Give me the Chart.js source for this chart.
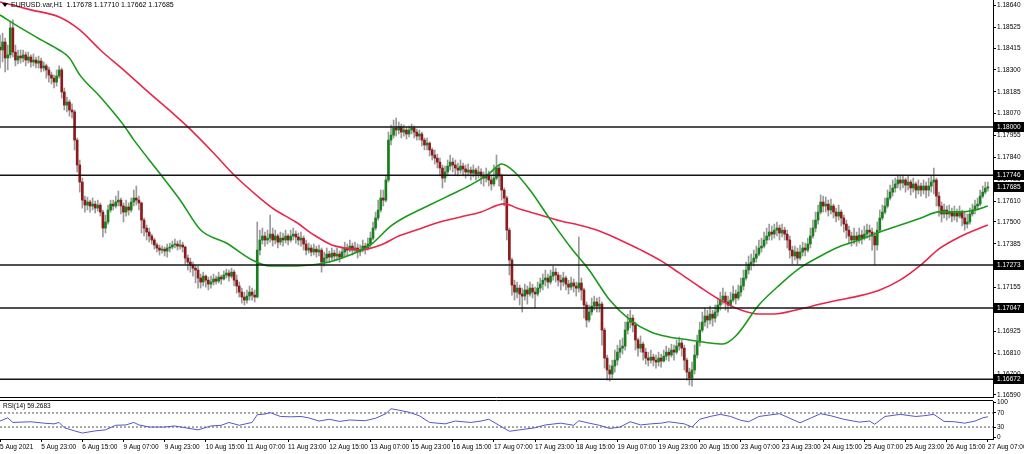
<!DOCTYPE html>
<html>
<head>
<meta charset="utf-8">
<title>EURUSD H1</title>
<script src="https://cdn.jsdelivr.net/npm/chart.js@4.4.1/dist/chart.umd.min.js"></script>
<style>
  html, body { margin: 0; padding: 0; background: #fff; overflow: hidden; }
  #wrap { position: relative; width: 1024px; height: 454px; }
  #main { position: absolute; left: 0; top: 0; }
  #rsi { position: absolute; left: 0; top: 399px; }
</style>
</head>
<body>
<div id="wrap">
  <canvas id="main" width="1024" height="399"></canvas>
  <canvas id="rsi" width="1024" height="55"></canvas>
</div>
<script>
// --- Data ---
const symbolName = "EURUSD.var,H1";
const rsiName = "RSI(14)";

const timeLabels = ["5 Aug 2021","5 Aug 23:00","6 Aug 15:00","9 Aug 07:00","9 Aug 23:00","10 Aug 15:00",
  "11 Aug 07:00","11 Aug 23:00","12 Aug 15:00","13 Aug 07:00","15 Aug 23:00","16 Aug 15:00","17 Aug 07:00",
  "17 Aug 23:00","18 Aug 15:00","19 Aug 07:00","19 Aug 23:00","20 Aug 15:00","23 Aug 07:00","23 Aug 23:00",
  "24 Aug 15:00","25 Aug 07:00","25 Aug 23:00","26 Aug 15:00","27 Aug 07:00"];
const barsPerLabel = 16;

const firstOpen = 1.18420;
const closes = [
  1.18405,1.18447,1.18363,1.18379,1.18521,1.18394,1.18352,1.18373,1.18363,1.18379,
  1.18352,1.18368,1.18342,1.18352,1.18336,1.18347,1.18310,1.18321,1.18300,1.18273,
  1.18257,1.18236,1.18268,1.18300,1.18184,1.18115,1.18131,1.18089,1.18079,1.17931,
  1.17800,1.17710,1.17615,1.17589,1.17605,1.17584,1.17594,1.17573,1.17589,1.17552,
  1.17468,1.17500,1.17563,1.17594,1.17584,1.17605,1.17615,1.17584,1.17552,1.17579,
  1.17563,1.17605,1.17626,1.17615,1.17600,1.17510,1.17468,1.17447,1.17426,1.17405,
  1.17379,1.17363,1.17352,1.17357,1.17347,1.17363,1.17368,1.17379,1.17384,1.17373,
  1.17379,1.17368,1.17310,1.17289,1.17273,1.17257,1.17247,1.17205,1.17184,1.17215,
  1.17194,1.17173,1.17184,1.17200,1.17189,1.17210,1.17200,1.17221,1.17231,1.17215,
  1.17236,1.17194,1.17163,1.17131,1.17105,1.17089,1.17110,1.17131,1.17115,1.17105,
  1.17352,1.17405,1.17426,1.17405,1.17415,1.17436,1.17405,1.17426,1.17394,1.17415,
  1.17405,1.17426,1.17405,1.17426,1.17436,1.17421,1.17405,1.17415,1.17384,1.17352,
  1.17363,1.17342,1.17357,1.17342,1.17352,1.17289,1.17310,1.17331,1.17315,1.17336,
  1.17321,1.17331,1.17315,1.17342,1.17363,1.17352,1.17373,1.17352,1.17363,1.17342,
  1.17352,1.17373,1.17363,1.17384,1.17415,1.17468,1.17521,1.17563,1.17626,1.17615,
  1.17721,1.17931,1.17957,1.17994,1.17984,1.18000,1.17973,1.17984,1.17963,1.17984,
  1.17994,1.17973,1.17952,1.17963,1.17931,1.17905,1.17915,1.17879,1.17852,1.17836,
  1.17815,1.17784,1.17731,1.17763,1.17794,1.17815,1.17800,1.17784,1.17773,1.17794,
  1.17779,1.17763,1.17773,1.17757,1.17773,1.17752,1.17763,1.17742,1.17731,1.17747,
  1.17721,1.17700,1.17731,1.17784,1.17742,1.17668,1.17626,1.17457,1.17300,1.17168,
  1.17131,1.17152,1.17121,1.17110,1.17142,1.17121,1.17152,1.17131,1.17121,1.17152,
  1.17173,1.17194,1.17205,1.17184,1.17215,1.17236,1.17221,1.17194,1.17184,1.17205,
  1.17173,1.17157,1.17179,1.17163,1.17152,1.17179,1.17142,1.17063,1.16984,1.17026,
  1.17057,1.17079,1.17057,1.17068,1.16931,1.16784,1.16721,1.16700,1.16742,1.16773,
  1.16815,1.16836,1.16847,1.16931,1.16973,1.16994,1.16957,1.16879,1.16836,1.16857,
  1.16815,1.16784,1.16773,1.16789,1.16773,1.16763,1.16784,1.16768,1.16794,1.16815,
  1.16800,1.16826,1.16815,1.16847,1.16863,1.16836,1.16773,1.16710,1.16679,1.16721,
  1.16800,1.16868,1.16931,1.16973,1.17005,1.16984,1.17015,1.16994,1.17026,1.17063,
  1.17089,1.17110,1.17079,1.17063,1.17089,1.17121,1.17100,1.17131,1.17163,1.17205,
  1.17247,1.17279,1.17289,1.17310,1.17331,1.17363,1.17373,1.17405,1.17426,1.17447,
  1.17436,1.17457,1.17468,1.17442,1.17457,1.17436,1.17405,1.17352,1.17321,1.17342,
  1.17310,1.17342,1.17363,1.17352,1.17384,1.17426,1.17468,1.17510,1.17552,1.17605,
  1.17584,1.17594,1.17563,1.17584,1.17552,1.17531,1.17552,1.17521,1.17489,1.17457,
  1.17426,1.17405,1.17426,1.17405,1.17431,1.17415,1.17436,1.17457,1.17447,1.17426,
  1.17379,1.17457,1.17521,1.17552,1.17584,1.17626,1.17657,1.17679,1.17700,1.17721,
  1.17705,1.17721,1.17694,1.17710,1.17679,1.17700,1.17668,1.17689,1.17668,1.17689,
  1.17668,1.17689,1.17710,1.17721,1.17636,1.17584,1.17542,1.17563,1.17542,1.17552,
  1.17531,1.17547,1.17531,1.17552,1.17521,1.17489,1.17500,1.17542,1.17563,1.17584,
  1.17594,1.17636,1.17657,1.17678,1.17685
];
const highs = [
  1.18484,1.18494,1.18468,1.18431,1.18552,1.18563,1.18431,1.18405,1.18405,1.18405,
  1.18394,1.18394,1.18379,1.18384,1.18368,1.18373,1.18363,1.18342,1.18331,1.18315,
  1.18289,1.18273,1.18300,1.18321,1.18310,1.18205,1.18157,1.18142,1.18121,1.18089,
  1.17942,1.17826,1.17731,1.17636,1.17631,1.17615,1.17626,1.17610,1.17615,1.17600,
  1.17563,1.17536,1.17589,1.17615,1.17615,1.17636,1.17663,1.17626,1.17600,1.17615,
  1.17600,1.17626,1.17668,1.17689,1.17636,1.17605,1.17521,1.17484,1.17468,1.17436,
  1.17415,1.17389,1.17379,1.17373,1.17368,1.17384,1.17389,1.17400,1.17410,1.17400,
  1.17405,1.17394,1.17373,1.17326,1.17310,1.17289,1.17273,1.17268,1.17226,1.17236,
  1.17221,1.17210,1.17215,1.17226,1.17215,1.17236,1.17221,1.17242,1.17252,1.17247,
  1.17257,1.17247,1.17221,1.17184,1.17152,1.17131,1.17142,1.17163,1.17152,1.17142,
  1.17500,1.17457,1.17468,1.17447,1.17457,1.17536,1.17468,1.17457,1.17436,1.17447,
  1.17442,1.17457,1.17436,1.17457,1.17468,1.17452,1.17442,1.17447,1.17426,1.17405,
  1.17389,1.17379,1.17384,1.17373,1.17379,1.17363,1.17342,1.17363,1.17347,1.17363,
  1.17352,1.17363,1.17347,1.17368,1.17394,1.17384,1.17405,1.17389,1.17394,1.17384,
  1.17379,1.17405,1.17389,1.17415,1.17447,1.17500,1.17552,1.17615,1.17668,1.17668,
  1.17747,1.17973,1.18010,1.18036,1.18047,1.18026,1.18015,1.18010,1.18000,1.18005,
  1.18015,1.18005,1.17989,1.17984,1.17973,1.17942,1.17942,1.17921,1.17889,1.17879,
  1.17857,1.17836,1.17800,1.17794,1.17826,1.17852,1.17836,1.17826,1.17810,1.17826,
  1.17810,1.17800,1.17805,1.17789,1.17800,1.17784,1.17794,1.17779,1.17763,1.17784,
  1.17768,1.17747,1.17800,1.17852,1.17800,1.17752,1.17679,1.17636,1.17468,1.17310,
  1.17194,1.17184,1.17168,1.17152,1.17173,1.17163,1.17184,1.17173,1.17157,1.17184,
  1.17205,1.17226,1.17247,1.17226,1.17247,1.17268,1.17257,1.17236,1.17221,1.17236,
  1.17215,1.17194,1.17210,1.17200,1.17184,1.17421,1.17205,1.17152,1.17079,1.17063,
  1.17100,1.17110,1.17100,1.17105,1.17079,1.16942,1.16800,1.16747,1.16773,1.16826,
  1.16852,1.16879,1.16889,1.16973,1.17015,1.17036,1.17010,1.16973,1.16889,1.16900,
  1.16868,1.16836,1.16815,1.16826,1.16805,1.16800,1.16815,1.16805,1.16826,1.16847,
  1.16836,1.16857,1.16852,1.16879,1.16894,1.16879,1.16852,1.16784,1.16731,1.16763,
  1.16852,1.16905,1.16973,1.17026,1.17047,1.17036,1.17057,1.17036,1.17063,1.17100,
  1.17131,1.17152,1.17131,1.17110,1.17131,1.17163,1.17142,1.17168,1.17205,1.17247,
  1.17289,1.17321,1.17331,1.17352,1.17373,1.17405,1.17415,1.17447,1.17468,1.17489,
  1.17479,1.17489,1.17500,1.17484,1.17489,1.17473,1.17457,1.17426,1.17373,1.17373,
  1.17363,1.17379,1.17394,1.17389,1.17415,1.17468,1.17510,1.17552,1.17589,1.17642,
  1.17636,1.17631,1.17615,1.17621,1.17594,1.17573,1.17589,1.17563,1.17536,1.17510,
  1.17479,1.17447,1.17468,1.17447,1.17468,1.17457,1.17479,1.17489,1.17484,1.17468,
  1.17447,1.17500,1.17563,1.17589,1.17626,1.17668,1.17694,1.17721,1.17731,1.17747,
  1.17742,1.17747,1.17731,1.17742,1.17721,1.17731,1.17710,1.17721,1.17705,1.17721,
  1.17710,1.17731,1.17742,1.17784,1.17731,1.17657,1.17605,1.17594,1.17584,1.17589,
  1.17573,1.17584,1.17568,1.17584,1.17563,1.17552,1.17542,1.17573,1.17594,1.17615,
  1.17626,1.17668,1.17689,1.17710,1.17710
];
const lows = [
  1.18310,1.18342,1.18289,1.18300,1.18363,1.18368,1.18321,1.18331,1.18336,1.18342,
  1.18321,1.18336,1.18315,1.18321,1.18310,1.18310,1.18289,1.18294,1.18257,1.18236,
  1.18226,1.18205,1.18215,1.18257,1.18152,1.18089,1.18079,1.18057,1.18047,1.17879,
  1.17763,1.17657,1.17573,1.17552,1.17563,1.17552,1.17563,1.17547,1.17557,1.17531,
  1.17421,1.17442,1.17489,1.17552,1.17563,1.17573,1.17584,1.17542,1.17500,1.17531,
  1.17536,1.17552,1.17584,1.17589,1.17563,1.17442,1.17426,1.17405,1.17394,1.17384,
  1.17357,1.17342,1.17326,1.17336,1.17321,1.17315,1.17342,1.17357,1.17363,1.17352,
  1.17357,1.17342,1.17279,1.17247,1.17236,1.17215,1.17179,1.17152,1.17152,1.17163,
  1.17157,1.17142,1.17152,1.17168,1.17173,1.17179,1.17173,1.17194,1.17205,1.17189,
  1.17205,1.17163,1.17126,1.17105,1.17073,1.17063,1.17073,1.17089,1.17089,1.17079,
  1.17100,1.17326,1.17384,1.17373,1.17384,1.17394,1.17373,1.17384,1.17363,1.17379,
  1.17373,1.17389,1.17379,1.17394,1.17405,1.17389,1.17379,1.17373,1.17352,1.17326,
  1.17336,1.17321,1.17326,1.17315,1.17321,1.17236,1.17268,1.17289,1.17289,1.17300,
  1.17294,1.17300,1.17289,1.17310,1.17321,1.17321,1.17342,1.17326,1.17336,1.17310,
  1.17321,1.17342,1.17331,1.17352,1.17363,1.17405,1.17457,1.17510,1.17552,1.17584,
  1.17605,1.17710,1.17905,1.17942,1.17952,1.17963,1.17942,1.17952,1.17936,1.17947,
  1.17963,1.17942,1.17931,1.17931,1.17900,1.17879,1.17879,1.17847,1.17826,1.17805,
  1.17784,1.17742,1.17679,1.17710,1.17742,1.17773,1.17763,1.17747,1.17742,1.17757,
  1.17742,1.17731,1.17742,1.17721,1.17736,1.17721,1.17731,1.17700,1.17689,1.17710,
  1.17689,1.17668,1.17689,1.17721,1.17689,1.17615,1.17584,1.17405,1.17221,1.17115,
  1.17089,1.17100,1.17063,1.17026,1.17089,1.17068,1.17110,1.17100,1.17047,1.17110,
  1.17131,1.17142,1.17163,1.17152,1.17173,1.17194,1.17184,1.17163,1.17142,1.17163,
  1.17142,1.17121,1.17142,1.17131,1.17110,1.17131,1.17089,1.16994,1.16947,1.16973,
  1.17010,1.17036,1.17026,1.17026,1.16852,1.16731,1.16668,1.16663,1.16679,1.16710,
  1.16747,1.16784,1.16805,1.16826,1.16910,1.16942,1.16921,1.16826,1.16794,1.16815,
  1.16773,1.16752,1.16742,1.16757,1.16742,1.16731,1.16742,1.16736,1.16763,1.16773,
  1.16768,1.16789,1.16773,1.16805,1.16826,1.16794,1.16721,1.16668,1.16642,1.16636,
  1.16700,1.16784,1.16847,1.16921,1.16952,1.16942,1.16963,1.16952,1.16973,1.17005,
  1.17036,1.17068,1.17036,1.17026,1.17047,1.17079,1.17068,1.17089,1.17110,1.17142,
  1.17194,1.17226,1.17247,1.17268,1.17289,1.17321,1.17342,1.17363,1.17384,1.17405,
  1.17405,1.17415,1.17426,1.17405,1.17421,1.17405,1.17363,1.17310,1.17279,1.17300,
  1.17279,1.17300,1.17321,1.17321,1.17342,1.17363,1.17415,1.17447,1.17489,1.17542,
  1.17552,1.17552,1.17531,1.17542,1.17521,1.17500,1.17510,1.17479,1.17447,1.17415,
  1.17384,1.17373,1.17384,1.17373,1.17389,1.17384,1.17405,1.17415,1.17405,1.17352,
  1.17273,1.17352,1.17447,1.17510,1.17542,1.17573,1.17615,1.17636,1.17657,1.17679,
  1.17668,1.17679,1.17657,1.17668,1.17642,1.17657,1.17626,1.17647,1.17636,1.17647,
  1.17626,1.17636,1.17657,1.17647,1.17584,1.17531,1.17500,1.17521,1.17510,1.17521,
  1.17500,1.17510,1.17500,1.17521,1.17479,1.17457,1.17468,1.17489,1.17531,1.17542,
  1.17563,1.17584,1.17626,1.17647,1.17662
];

// moving averages, sampled at bar indexes
const fastMaBars = [0,8,16,23,27,31,39,48,52,62,70,78,88,98,105,113,124,128,136,144,
  152,159,167,175,183,190,195,200,206,214,222,229,237,245,253,260,268,276,281,286,
  295,303,311,319,326,334,342,350,358,365,373,379,384];
const fastMaValues = [1.18589,1.18521,1.18458,1.18405,1.18363,1.18274,1.18158,1.18011,1.17932,1.17758,
  1.17616,1.17458,1.17389,1.17300,1.17268,1.17268,1.17279,1.17289,1.17326,1.17379,
  1.17479,1.17537,1.17589,1.17642,1.17695,1.17753,1.17805,1.17763,1.17668,1.17511,
  1.17363,1.17247,1.17089,1.16984,1.16921,1.16895,1.16879,1.16863,1.16858,1.16900,
  1.17063,1.17168,1.17258,1.17321,1.17368,1.17405,1.17447,1.17484,1.17521,1.17553,
  1.17553,1.17563,1.17584];
const slowMaBars = [0,12,23,31,39,48,58,67,73,83,91,101,107,115,122,129,134,140,148,155,
  163,171,179,187,196,202,210,218,225,233,241,249,257,264,272,280,288,295,301,311,
  319,326,334,342,350,358,365,373,384];
const slowMaValues = [1.18658,1.18616,1.18579,1.18511,1.18405,1.18300,1.18179,1.18074,1.18000,1.17863,
  1.17747,1.17626,1.17563,1.17500,1.17432,1.17379,1.17363,1.17353,1.17379,1.17426,
  1.17463,1.17500,1.17526,1.17553,1.17595,1.17568,1.17537,1.17505,1.17484,1.17453,
  1.17405,1.17353,1.17295,1.17232,1.17158,1.17089,1.17037,1.17016,1.17016,1.17042,
  1.17068,1.17089,1.17111,1.17142,1.17195,1.17274,1.17358,1.17421,1.17484];

const levels = [1.18000, 1.17746, 1.17273, 1.17047, 1.16672];
const priceTicks = [1.18640,1.18525,1.18415,1.18300,1.18185,1.18070,1.17955,1.17840,1.17725,1.17610,
  1.17500,1.17385,1.17270,1.17155,1.17040,1.16925,1.16810,1.16700,1.16590];

const rsiBars = [0,3,5,12,17,21,23,25,29,32,37,41,45,49,52,54,58,64,68,72,
  77,82,86,89,93,98,100,103,105,109,113,117,120,124,128,132,136,142,146,150,
  152,155,159,163,167,173,177,183,187,190,194,198,202,208,212,218,223,225,229,233,
  237,241,245,249,253,257,260,266,269,272,276,280,284,288,291,295,299,303,307,311,
  315,319,323,328,334,338,340,344,350,356,359,363,367,371,375,379,382,384];
const rsiValues = [47,56,43,45,41,39,43,28,19,13,19,22,35,36,43,36,30,30,33,28,
  22,33,35,43,35,43,65,67,71,60,59,60,56,47,52,46,50,48,55,68,
  82,78,72,62,43,39,47,43,47,52,35,18,22,28,36,41,35,48,41,35,
  26,30,45,36,39,41,45,39,30,52,60,66,60,49,45,60,64,68,55,42,
  55,68,62,52,44,47,38,60,66,60,62,66,46,45,41,47,56,59.2683];
const rsiLevels = [70, 30];
const rsiTicks = [100, 70, 30, 0];

// --- Layout / style ---
const FONT = "'Liberation Sans', Arial, sans-serif";
const BULL = "#17801a";
const BEAR = "#8e1b1b";
const WICK = "#9a9a9a";
const X_MIN = 0, X_MAX = 386;
const PRICE_MIN = 1.16579, PRICE_MAX = 1.18668;
const AXIS_W = 31;

const last = closes.length - 1;
const opens = closes.map((c, i) => i === 0 ? firstOpen : closes[i - 1]);
const pair = (xs, ys) => xs.map((x, i) => ({x, y: ys[i]}));
const flatLine = v => [{x: X_MIN, y: v}, {x: X_MAX, y: v}];
const fixWidth = ax => { ax.width = AXIS_W; ax.paddingTop = 0; ax.paddingBottom = 0; };

const axisGrid = {drawOnChartArea: false, drawTicks: true, tickLength: 3, tickColor: "#000", color: "#000"};
const axisFont = {family: FONT, size: 6.5};

// --- Overlays (header text, price boxes, panel borders) ---
const mainOverlay = {
  id: "mainOverlay",
  afterDraw(chart) {
    const {ctx, chartArea: a, scales} = chart;
    ctx.save();
    ctx.strokeStyle = "#000";
    ctx.lineWidth = 1;
    ctx.beginPath();
    ctx.moveTo(0, a.bottom + 0.5);
    ctx.lineTo(a.right, a.bottom + 0.5);
    ctx.stroke();

    ctx.fillStyle = "#000";
    ctx.beginPath();
    ctx.moveTo(2, 3); ctx.lineTo(8, 3); ctx.lineTo(5, 7);
    ctx.fill();
    ctx.font = "7px " + FONT;
    ctx.textBaseline = "middle";
    const head = symbolName + "  " + [opens[last], highs[last], lows[last], closes[last]].map(v => v.toFixed(5)).join(" ");
    ctx.fillText(head, 11, 5.5);

    ctx.font = "6.5px " + FONT;
    [...levels, closes[last]].forEach(p => {
      const y = Math.round(scales.y.getPixelForValue(p));
      ctx.fillStyle = "#000";
      ctx.fillRect(a.right + 1, y - 5, AXIS_W, 10);
      ctx.fillStyle = "#fff";
      ctx.fillText(p.toFixed(5), a.right + 4, y + 0.5);
    });
    ctx.restore();
  }
};

const rsiOverlay = {
  id: "rsiOverlay",
  afterDraw(chart) {
    const {ctx, chartArea: a} = chart;
    ctx.save();
    ctx.strokeStyle = "#000";
    ctx.lineWidth = 1;
    ctx.beginPath();
    ctx.moveTo(0, a.top - 0.5);
    ctx.lineTo(a.right, a.top - 0.5);
    ctx.stroke();
    ctx.fillStyle = "#000";
    ctx.font = "6.5px " + FONT;
    ctx.textBaseline = "middle";
    ctx.fillText(rsiName + " " + rsiValues[rsiValues.length - 1].toFixed(4), 3, a.top + 5);
    ctx.restore();
  }
};

// --- Price chart ---
new Chart(document.getElementById("main"), {
  type: "bar",
  data: {
    datasets: [
      ...levels.map(v => ({
        type: "line", data: flatLine(v), borderColor: "#151515", borderWidth: 1.5,
        pointRadius: 0, order: 0
      })),
      {
        type: "line", label: "MA fast", data: pair(fastMaBars, fastMaValues),
        borderColor: "#1a9a1a", borderWidth: 1.6, pointRadius: 0,
        cubicInterpolationMode: "monotone", order: 1
      },
      {
        type: "line", label: "MA slow", data: pair(slowMaBars, slowMaValues),
        borderColor: "#e8274d", borderWidth: 1.6, pointRadius: 0,
        cubicInterpolationMode: "monotone", order: 1
      },
      {
        label: "body", data: closes.map((c, i) => ({x: i, y: [opens[i], c]})),
        backgroundColor: closes.map((c, i) => c >= opens[i] ? BULL : BEAR),
        barThickness: 2, minBarLength: 1, grouped: false, order: 2
      },
      {
        label: "wick", data: closes.map((c, i) => ({x: i, y: [lows[i], highs[i]]})),
        backgroundColor: WICK, barThickness: 1, grouped: false, order: 3
      }
    ]
  },
  options: {
    responsive: false,
    animation: false,
    devicePixelRatio: 1,
    layout: {padding: {top: 0, left: 0, right: 0, bottom: 2}},
    plugins: {legend: {display: false}, tooltip: {enabled: false}},
    scales: {
      x: {type: "linear", display: false, min: X_MIN, max: X_MAX, offset: false},
      y: {
        type: "linear", position: "right", min: PRICE_MIN, max: PRICE_MAX,
        afterBuildTicks: ax => { ax.ticks = priceTicks.map(value => ({value})); },
        afterFit: fixWidth,
        grid: axisGrid,
        border: {display: true, color: "#000"},
        ticks: {color: "#000", padding: 1, font: axisFont, callback: v => v.toFixed(5)}
      }
    }
  },
  plugins: [mainOverlay]
});

// --- RSI chart ---
new Chart(document.getElementById("rsi"), {
  type: "line",
  data: {
    datasets: [
      {data: pair(rsiBars, rsiValues), borderColor: "#5656c8", borderWidth: 1, pointRadius: 0},
      ...rsiLevels.map(v => ({
        data: flatLine(v), borderColor: "#555", borderWidth: 1, borderDash: [2, 2], pointRadius: 0
      }))
    ]
  },
  options: {
    responsive: false,
    animation: false,
    devicePixelRatio: 1,
    layout: {padding: {top: 2, left: 0, right: 0, bottom: 0}},
    plugins: {legend: {display: false}, tooltip: {enabled: false}},
    scales: {
      x: {
        type: "linear", min: X_MIN, max: X_MAX, offset: false,
        afterBuildTicks: ax => { ax.ticks = timeLabels.map((_, k) => ({value: k * barsPerLabel})); },
        afterFit: ax => { ax.height = 15; ax.paddingLeft = 0; ax.paddingRight = 0; },
        grid: axisGrid,
        border: {display: true, color: "#000"},
        ticks: {
          color: "#000", padding: 1, font: axisFont, align: "start",
          maxRotation: 0, autoSkip: false, callback: (v, i) => timeLabels[i]
        }
      },
      y: {
        type: "linear", position: "right", min: -4, max: 104,
        afterBuildTicks: ax => { ax.ticks = rsiTicks.map(value => ({value})); },
        afterFit: fixWidth,
        grid: axisGrid,
        border: {display: true, color: "#000"},
        ticks: {color: "#000", padding: 1, font: axisFont, callback: v => String(v)}
      }
    }
  },
  plugins: [rsiOverlay]
});
</script>
</body>
</html>
